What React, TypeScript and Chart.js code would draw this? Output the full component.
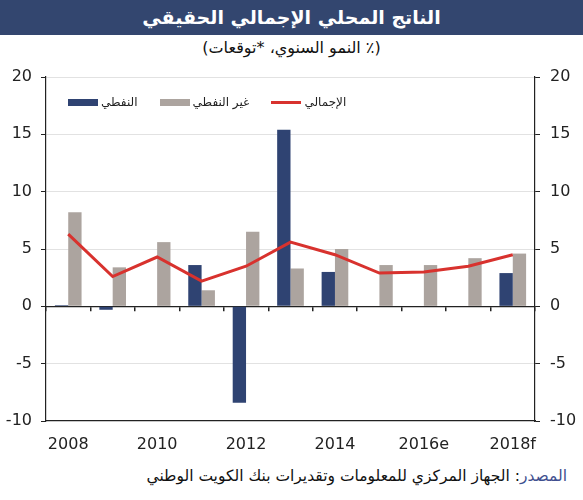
import React, { useEffect, useRef } from "react";
import { Chart, registerables } from "chart.js";

Chart.register(...registerables);

const FONT = '"DejaVu Sans", "Liberation Sans", sans-serif';

// ---- data ----
const years = ["2008", "2009", "2010", "2011", "2012", "2013", "2014", "2015", "2016e", "2017f", "2018f"];
const oilGrowth = [0.1, -0.3, 0, 3.6, -8.4, 15.4, 3.0, 0, 0, 0, 2.9];
const nonOilGrowth = [8.2, 3.4, 5.6, 1.4, 6.5, 3.3, 5.0, 3.6, 3.6, 4.2, 4.6];
const totalGrowth = [6.3, 2.6, 4.3, 2.2, 3.5, 5.6, 4.5, 2.9, 3.0, 3.5, 4.5];
const yMin = -10;
const yMax = 20;
const yStep = 5;

const seriesLabels = ["النفطي", "غير النفطي", "الإجمالي"];
const seriesColors = ["#2f4372", "#aca49f", "#d8322e"];

const titleText = "الناتج المحلي الإجمالي الحقيقي";
const subtitleText = "(٪ النمو السنوي، *توقعات)";
const sourceLabel = "المصدر";
const sourceText = ": الجهاز المركزي للمعلومات وتقديرات بنك الكويت الوطني";

export default function App() {
  const canvasRef = useRef<HTMLCanvasElement | null>(null);

  useEffect(() => {
    const canvas = canvasRef.current;
    if (!canvas) return;
    const axisFont = { family: FONT, size: 16 };
    const chart = new Chart(canvas, {
      type: "bar",
      data: {
        labels: years,
        datasets: [
          {
            type: "bar",
            label: seriesLabels[0],
            data: oilGrowth,
            backgroundColor: seriesColors[0],
            categoryPercentage: 0.6,
            barPercentage: 1.0,
            xAxisID: "x",
            yAxisID: "y",
          },
          {
            type: "bar",
            label: seriesLabels[1],
            data: nonOilGrowth,
            backgroundColor: seriesColors[1],
            categoryPercentage: 0.6,
            barPercentage: 1.0,
            xAxisID: "x",
            yAxisID: "y",
          },
          {
            type: "line",
            label: seriesLabels[2],
            data: totalGrowth,
            borderColor: seriesColors[2],
            backgroundColor: seriesColors[2],
            borderWidth: 3,
            pointRadius: 0,
            tension: 0,
            order: -1,
            xAxisID: "x",
            yAxisID: "y",
          },
        ],
      },
      options: {
        responsive: false,
        animation: false,
        events: [],
        layout: { padding: { top: 21, left: 0, right: 0, bottom: 0 } },
        plugins: {
          legend: { display: false },
          tooltip: { enabled: false },
          title: { display: false },
        },
        scales: {
          x: {
            type: "category",
            position: "bottom",
            offset: true,
            grid: { display: true, drawOnChartArea: false, drawTicks: false, offset: true },
            border: { display: true, color: "#222", width: 1.2 },
            ticks: {
              autoSkip: false,
              maxRotation: 0,
              minRotation: 0,
              padding: 14,
              color: "#222",
              font: axisFont,
              callback: (_v: any, i: number) => (i % 2 === 0 ? years[i] : ""),
            },
            afterFit: (s: any) => {
              s.height = 39;
            },
          },
          x0: {
            type: "category",
            position: { y: 0 },
            offset: true,
            grid: {
              display: true,
              drawOnChartArea: false,
              drawTicks: true,
              tickLength: 4,
              tickColor: "#222",
              lineWidth: 1.5,
              offset: true,
            },
            border: { display: true, color: "#222", width: 1.2 },
            ticks: { display: false },
          },
          y: {
            type: "linear",
            position: "left",
            min: yMin,
            max: yMax,
            ticks: { stepSize: yStep, padding: 9, color: "#222", font: axisFont },
            grid: {
              drawOnChartArea: true,
              drawTicks: true,
              tickLength: 5,
              tickColor: "#222",
              color: (ctx: any) =>
                ctx.tick && (ctx.tick.value === 0 || ctx.tick.value === yMin) ? "rgba(0,0,0,0)" : "#e2e2e2",
            },
            border: { display: true, color: "#222", width: 1.2 },
            afterFit: (s: any) => {
              s.width = 46;
            },
          },
          y2: {
            type: "linear",
            position: "right",
            min: yMin,
            max: yMax,
            ticks: { stepSize: yStep, padding: 10, color: "#222", font: axisFont },
            grid: { drawOnChartArea: false, drawTicks: true, tickLength: 5, tickColor: "#222" },
            border: { display: true, color: "#222", width: 1.2 },
            afterFit: (s: any) => {
              s.width = 48;
            },
          },
        },
      } as any,
    });
    return () => chart.destroy();
  }, []);

  return (
    <div
      style={{
        position: "absolute",
        left: 0,
        top: 0,
        width: 583,
        height: 500,
        background: "#fff",
        fontFamily: FONT,
        overflow: "hidden",
      }}
    >
      <div
        dir="rtl"
        style={{
          position: "absolute",
          left: 0,
          top: 0,
          width: 583,
          height: 35,
          background: "#33466f",
          color: "#fff",
          fontWeight: "bold",
          fontSize: 19,
          lineHeight: "35px",
          textAlign: "center",
        }}
      >
        {titleText}
      </div>
      <div
        dir="rtl"
        style={{
          position: "absolute",
          left: 0,
          top: 38,
          width: 583,
          height: 20,
          color: "#111",
          fontSize: 16,
          lineHeight: "20px",
          textAlign: "center",
        }}
      >
        {subtitleText}
      </div>
      <canvas
        ref={canvasRef}
        width={583}
        height={404}
        style={{ position: "absolute", left: 0, top: 56, width: 583, height: 404 }}
      />
      <div
        style={{
          position: "absolute",
          left: 68,
          top: 95,
          height: 14,
          display: "flex",
          alignItems: "center",
        }}
      >
        {seriesLabels.map((lbl, i) => (
          <div key={i} style={{ display: "flex", alignItems: "center", marginRight: 22 }}>
            <span
              style={{
                display: "inline-block",
                width: 30,
                height: i === 2 ? 3 : 7,
                background: seriesColors[i],
              }}
            />
            <span dir="rtl" style={{ marginLeft: 3, fontSize: 12, color: "#222", lineHeight: "14px" }}>
              {lbl}
            </span>
          </div>
        ))}
      </div>
      <div
        dir="rtl"
        style={{
          position: "absolute",
          right: 16,
          top: 467,
          fontSize: 15.5,
          lineHeight: "18px",
          color: "#111",
          whiteSpace: "nowrap",
        }}
      >
        <span style={{ color: "#3f4f8f" }}>{sourceLabel}</span>
        <span>{sourceText}</span>
      </div>
    </div>
  );
}
